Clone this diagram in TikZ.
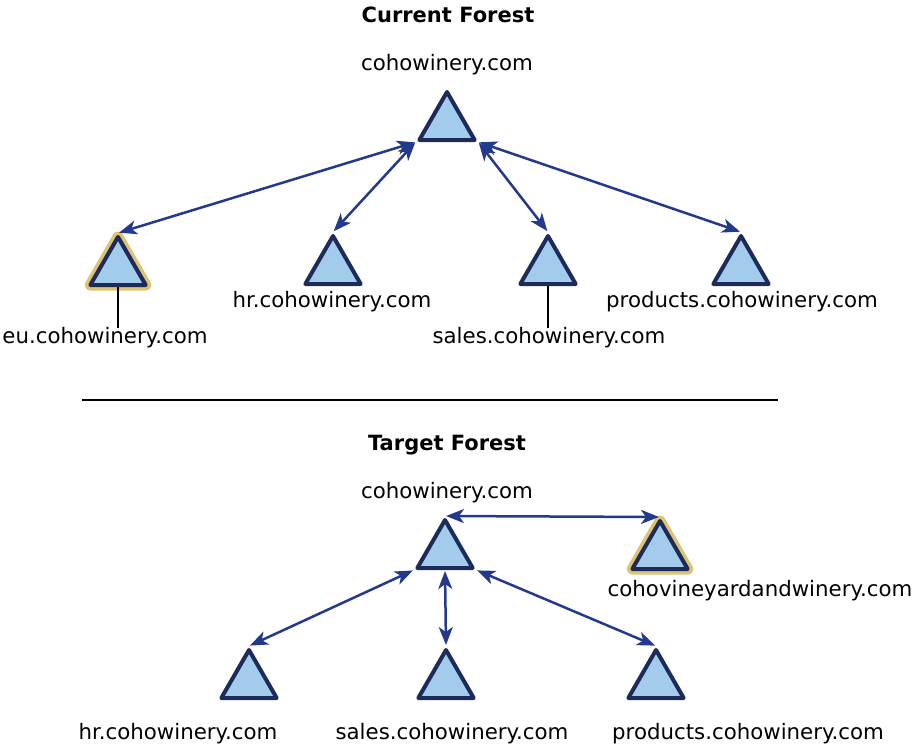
\documentclass[tikz,border=0pt]{standalone}
\usepackage{fontspec}
\setmainfont{DejaVu Sans}
\usetikzlibrary{shapes.geometric,arrows.meta}
\definecolor{navy}{HTML}{1C2B5A}
\definecolor{arrowblue}{HTML}{233A8C}
\definecolor{trifill}{HTML}{A3CBEB}
\definecolor{glow}{HTML}{D6B450}

\tikzset{
  domtri/.style={regular polygon, regular polygon sides=3, minimum size=64pt, inner sep=0pt,
    draw=navy, line width=4pt, fill=trifill, line join=round},
  newtri/.style={domtri, preaction={draw=glow!80, line width=11pt, line join=round}},
  domlabel/.style={font=\fontsize{21.3}{24}\selectfont, inner sep=0pt},
  foresttitle/.style={font=\fontsize{21}{24}\selectfont\bfseries, inner sep=0pt},
  trust/.style={{Stealth[length=18pt,width=14pt,inset=5pt]}-{Stealth[length=18pt,width=14pt,inset=5pt]},
    draw=arrowblue, line width=2.5pt, shorten <=1pt, shorten >=1pt},
}

\begin{document}
\begin{tikzpicture}[x=1pt,y=-1pt]
\useasboundingbox (0,0) rectangle (912,748);

% current forest
\node[foresttitle] (curTitle) at (448,15) {Current Forest};
\node[domlabel] (curRootLabel) at (447,65) {cohowinery.com};
\node[domtri] (cur) at (447,124) {};

\node[newtri] (curEu) at (118,269) {};
\node[domtri] (curHr) at (333,268) {};
\node[domtri] (curSales) at (548,268) {};
\node[domtri] (curProducts) at (741,268) {};

\node[domlabel] (curEuLabel) at (105,338) {eu.cohowinery.com};
\node[domlabel] (curHrLabel) at (332,302) {hr.cohowinery.com};
\node[domlabel] (curSalesLabel) at (549,338) {sales.cohowinery.com};
\node[domlabel] (curProductsLabel) at (742,302) {products.cohowinery.com};

\draw[line width=1.5pt] (curEu.side 2) -- (curEu.side 2 |- curEuLabel.north);
\draw[line width=1.5pt] (curSales.side 2) -- (curSales.side 2 |- curSalesLabel.north);

\draw[trust] (cur.corner 2) -- (curEu.corner 1);
\draw[trust] (cur.corner 2) -- (curHr.corner 1);
\draw[trust] (cur.corner 3) -- (curSales.corner 1);
\draw[trust] (cur.corner 3) -- (curProducts.corner 1);

% separator
\coordinate (sepL) at (82,400);
\coordinate (sepR) at (778,400);
\draw[line width=1.5pt] (sepL) -- (sepR);

% target forest
\node[foresttitle] (tgtTitle) at (447,445) {Target Forest};
\node[domlabel] (tgtRootLabel) at (447,493) {cohowinery.com};
\node[domtri] (tgt) at (445,552) {};
\node[newtri] (tgtVine) at (660,553) {};
\node[domlabel] (tgtVineLabel) at (760,591) {cohovineyardandwinery.com};

\node[domtri] (tgtHr) at (249,682) {};
\node[domtri] (tgtSales) at (446,682) {};
\node[domtri] (tgtProducts) at (656,682) {};

\node[domlabel] (tgtHrLabel) at (178,734) {hr.cohowinery.com};
\node[domlabel] (tgtSalesLabel) at (452,734) {sales.cohowinery.com};
\node[domlabel] (tgtProductsLabel) at (748,734) {products.cohowinery.com};

\draw[trust] (tgt.corner 1) -- (tgtVine.corner 1);
\draw[trust] (tgt.corner 2) -- (tgtHr.corner 1);
\draw[trust] (tgt.side 2) -- (tgtSales.corner 1);
\draw[trust] (tgt.corner 3) -- (tgtProducts.corner 1);

\end{tikzpicture}
\end{document}
